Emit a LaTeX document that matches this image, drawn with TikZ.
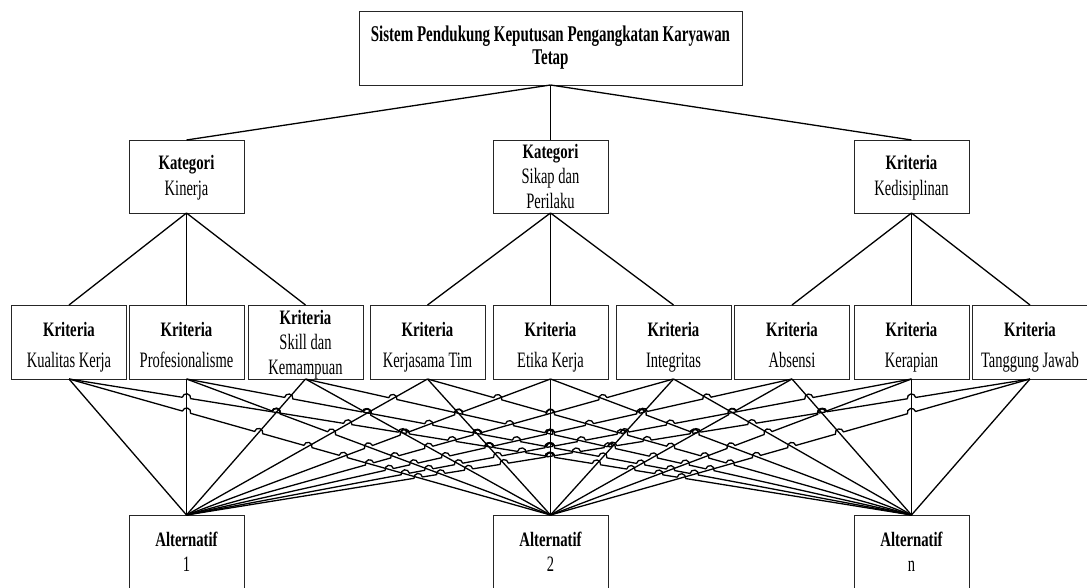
\documentclass[tikz,border=0pt]{standalone}
\usepackage{fontspec}
\setmainfont{Liberation Serif}[FakeStretch=0.66, BoldFeatures={FakeStretch=0.72}]
\newfontfamily\titlef{Liberation Serif}[FakeStretch=0.665]
\begin{document}
\begin{tikzpicture}[x=1pt,y=1pt,
  box/.style={draw=black!85, line width=0.9pt, outer sep=0pt, inner sep=0pt,
    minimum width=115pt, minimum height=74pt},
  lb/.style={anchor=base, inner sep=0pt, font=\fontsize{20.5}{22}\selectfont\bfseries},
  lr/.style={anchor=base, inner sep=0pt, font=\fontsize{22}{25}\selectfont},
  lt/.style={anchor=base, inner sep=0pt, font=\fontsize{22.5}{25}\titlef\bfseries},
  conn/.style={draw=black, line width=1.3pt}]
\useasboundingbox[fill=white] (0,0) rectangle (1087,-588);
% top
\node[box, minimum width=383pt] (top) at (550.5,-48) {};
\node[lt] (top1) at (550.5,-41.7) {Sistem Pendukung Keputusan Pengangkatan Karyawan};
\node[lt] (top2) at (550.5,-65) {Tetap};
% categories
\node[box, minimum height=73pt] (cat0) at (186.5,-176.5) {};
\node[box, minimum height=73pt] (cat1) at (550.5,-176.5) {};
\node[box, minimum height=73pt] (cat2) at (911.5,-176.5) {};
\node[lb] (cat0a) at (186.5,-169.3) {Kategori};
\node[lr] (cat0b) at (186.5,-195.5) {Kinerja};
\node[lb] (cat1a) at (550.5,-158.3) {Kategori};
\node[lr] (cat1b) at (550.5,-184) {Sikap dan};
\node[lr] (cat1c) at (550.5,-209) {Perilaku};
\node[lb] (cat2a) at (911.5,-169.3) {Kriteria};
\node[lr] (cat2b) at (911.5,-195.5) {Kedisiplinan};
% criteria
\foreach \n/\x in {0/69,1/186.5,2/305.5,3/427.5,4/550.5,5/673.5,6/792,7/911.5,8/1030}
  \node[box] (k\n) at (\x,-342) {};
\foreach \n/\x/\t in {0/69/Kualitas Kerja,1/186.5/Profesionalisme,3/427.5/Kerjasama Tim,
    4/550.5/Etika Kerja,5/673.5/Integritas,6/792/Absensi,7/911.5/Kerapian,8/1030/Tanggung Jawab}{
  \node[lb] (k\n a) at (\x,-336) {Kriteria};
  \node[lr] (k\n b) at (\x,-367) {\t};
}
\node[lb] (k2a) at (305.5,-324) {Kriteria};
\node[lr] (k2b) at (305.5,-349) {Skill dan};
\node[lr] (k2c) at (305.5,-374) {Kemampuan};
% alternatives
\foreach \n/\x/\t in {0/186.5/1,1/550.5/2,2/911.5/n}{
  \node[box, minimum height=75pt] (alt\n) at (\x,-552.5) {};
  \node[lb] (alt\n a) at (\x,-546.7) {Alternatif};
  \node[lr] (alt\n b) at (\x,-571.7) {\t};
}
% upper connectors
\foreach \n in {0,1,2} \draw[conn] (top.south) -- (cat\n.north);
\draw[conn] (cat0.south) -- (k0.north); \draw[conn] (cat0.south) -- (k1.north); \draw[conn] (cat0.south) -- (k2.north);
\draw[conn] (cat1.south) -- (k3.north); \draw[conn] (cat1.south) -- (k4.north); \draw[conn] (cat1.south) -- (k5.north);
\draw[conn] (cat2.south) -- (k6.north); \draw[conn] (cat2.south) -- (k7.north); \draw[conn] (cat2.south) -- (k8.north);
% line hops
\def\cx{{69,186.5,305.5,427.5,550.5,673.5,792,911.5,1030}}
\def\ax{{186.5,550.5,911.5}}
\def\hr{4.2}
\def\hh{136}
\def\ytop{-379}
\foreach \i in {0,...,8}{\foreach \a in {0,1,2}{\expandafter\gdef\csname hp\i-\a\endcsname{}}}
\foreach \i in {0,...,7}{
 \pgfmathtruncatemacro\ip{\i+1}
 \foreach \j in {\ip,...,8}{
  \foreach \a/\b in {1/0,2/0,2/1}{
   \pgfmathsetmacro\hci{\cx[\i]}
   \pgfmathsetmacro\hcj{\cx[\j]}
   \pgfmathsetmacro\hAa{\ax[\a]}
   \pgfmathsetmacro\hAb{\ax[\b]}
   \pgfmathsetmacro\hdxa{\hAa-\hci}
   \pgfmathsetmacro\hdxb{\hAb-\hcj}
   \pgfmathsetmacro\ht{(\hcj-\hci)/(\hdxa-\hdxb)}
   \pgfmathsetmacro\hpx{\hci+\ht*\hdxa}
   \pgfmathsetmacro\hpy{\ytop-\hh*\ht}
   \pgfmathtruncatemacro\hona{abs(\hdxa)>abs(\hdxb)?1:0}
   \ifnum\hona=1
     \pgfmathsetmacro\hdx{\hdxa}
     \expandafter\xdef\csname hp\i-\a\endcsname{\csname hp\i-\a\endcsname (\hpx,\hpy) circle[radius=\hr]}
   \else
     \pgfmathsetmacro\hdx{\hdxb}
     \expandafter\xdef\csname hp\j-\b\endcsname{\csname hp\j-\b\endcsname (\hpx,\hpy) circle[radius=\hr]}
   \fi
   \pgfmathsetmacro\hang{\hdx>0 ? atan2(0-\hh,\hdx) : atan2(\hh,0-(\hdx))}
   \draw[conn] (\hpx,\hpy) ++(\hang+180:\hr) arc[start angle=\hang+180, end angle=\hang, radius=\hr];
  }}}
% lower connectors, interrupted at hops
\foreach \i in {0,...,8}{\foreach \a in {0,1,2}{
  \edef\hpl{\csname hp\i-\a\endcsname}
  \begin{scope}[even odd rule]
   \clip (-20,20) rectangle (1110,-610) \hpl;
   \draw[conn] (k\i.south) -- (alt\a.north);
  \end{scope}}}
\end{tikzpicture}
\end{document}
